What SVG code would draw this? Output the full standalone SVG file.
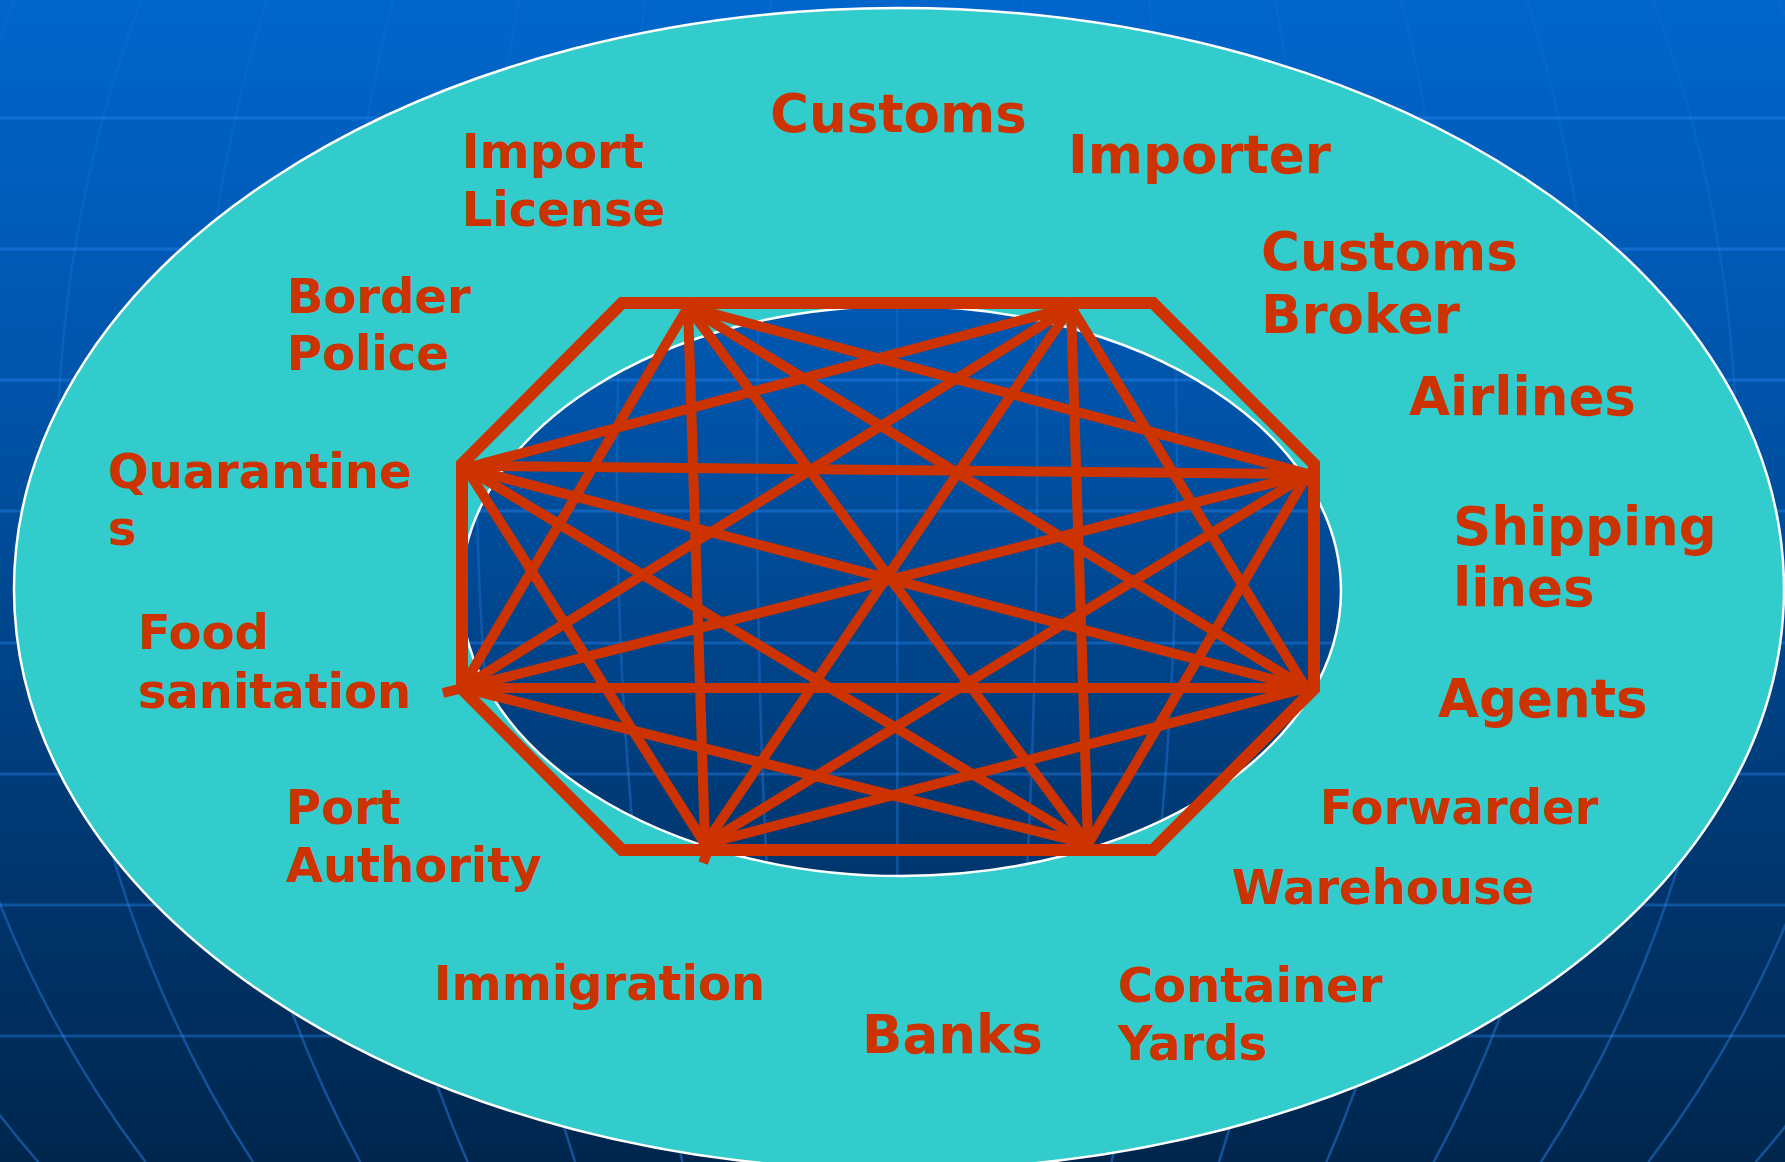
<svg xmlns="http://www.w3.org/2000/svg" xmlns:xlink="http://www.w3.org/1999/xlink" width="1785" height="1162" viewBox="0 0 1785 1162">
  <defs>
    <linearGradient id="bgGrad" x1="0" y1="0" x2="0" y2="1">
      <stop offset="0" stop-color="#0066CC"/>
      <stop offset="0.35" stop-color="#0053A8"/>
      <stop offset="0.75" stop-color="#00366E"/>
      <stop offset="1" stop-color="#00264D"/>
    </linearGradient>
    <linearGradient id="merGrad" gradientUnits="userSpaceOnUse" x1="0" y1="0" x2="0" y2="1162">
      <stop offset="0" stop-color="#2F8FFF" stop-opacity="0.08"/>
      <stop offset="0.45" stop-color="#2F8FFF" stop-opacity="0.25"/>
      <stop offset="1" stop-color="#2F8FFF" stop-opacity="0.42"/>
    </linearGradient>
    <clipPath id="innerClip">
      <ellipse cx="901" cy="591" rx="440" ry="285"/>
    </clipPath>
    <style>
      .grid { fill: none; }
      .hline { stroke: #2F8FFF; stroke-opacity: 0.35; stroke-width: 3; }
      .mer { stroke: url(#merGrad); stroke-width: 2.5; }
      .ring { stroke: #FFFFFF; stroke-width: 2.5; }
      .oct { fill: none; stroke: #CC3300; stroke-width: 12; stroke-linejoin: miter; }
      .edge { stroke: #CC3300; stroke-width: 10; stroke-linecap: butt; }
      .lbl { font-family: "DejaVu Sans", Verdana, sans-serif; font-weight: bold; font-size: 48px; fill: #CC3300; }
      .big { font-size: 53px; }
    </style>
  </defs>

  <g id="bg">
    <rect x="0" y="0" width="1785" height="1162" fill="url(#bgGrad)"/>
    <g class="grid hline">
      <line x1="0" y1="118" x2="1785" y2="118"/>
      <line x1="0" y1="249" x2="1785" y2="249"/>
      <line x1="0" y1="380" x2="1785" y2="380"/>
      <line x1="0" y1="511" x2="1785" y2="511"/>
      <line x1="0" y1="643" x2="1785" y2="643"/>
      <line x1="0" y1="774" x2="1785" y2="774"/>
      <line x1="0" y1="905" x2="1785" y2="905"/>
      <line x1="0" y1="1036" x2="1785" y2="1036"/>
    </g>
    <g class="grid mer">
      <path d="M897,0 L897.5,1162"/>
      <path d="M1023,0 A140,1078 0 0 1 1004.3,1162"/>
      <path d="M1149,0 A280,1078 0 0 1 1111.7,1162"/>
      <path d="M1275,0 A420,1078 0 0 1 1219,1162"/>
      <path d="M1401,0 A560,1078 0 0 1 1326.4,1162"/>
      <path d="M1527,0 A700,1078 0 0 1 1433.7,1162"/>
      <path d="M1653,0 A840,1078 0 0 1 1541,1162"/>
      <path d="M1779,0 A980,1078 0 0 1 1648.4,1162"/>
      <path d="M1905,0 A1120,1078 0 0 1 1755.7,1162"/>
      <path d="M771,0 A140,1078 0 0 0 789.7,1162"/>
      <path d="M645,0 A280,1078 0 0 0 682.3,1162"/>
      <path d="M519,0 A420,1078 0 0 0 575,1162"/>
      <path d="M393,0 A560,1078 0 0 0 467.6,1162"/>
      <path d="M267,0 A700,1078 0 0 0 360.3,1162"/>
      <path d="M141,0 A840,1078 0 0 0 253,1162"/>
      <path d="M15,0 A980,1078 0 0 0 145.6,1162"/>
      <path d="M-111,0 A1120,1078 0 0 0 38.3,1162"/>
    </g>
  </g>

  <g id="outer-ring">
    <ellipse class="ring" cx="899" cy="589" rx="885" ry="581" fill="#33CCCC"/>
  </g>
  <g id="inner-ring">
    <use xlink:href="#bg" href="#bg" clip-path="url(#innerClip)"/>
    <ellipse class="ring" cx="901" cy="591" rx="440" ry="285" fill="none"/>
  </g>

  <g id="connectors">
    <polygon class="oct" points="622,303 1153,303 1314,464 1314,689 1153,850 622,850 462,689 462,464"/>
    <line class="edge" x1="688" y1="307" x2="1308" y2="474"/>
    <line class="edge" x1="688" y1="307" x2="1306" y2="688"/>
    <line class="edge" x1="688" y1="307" x2="1088" y2="844"/>
    <line class="edge" x1="688" y1="307" x2="705" y2="844"/>
    <line class="edge" x1="688" y1="307" x2="462" y2="688"/>
    <line class="edge" x1="1071" y1="307" x2="1306" y2="688"/>
    <line class="edge" x1="1071" y1="307" x2="1088" y2="844"/>
    <line class="edge" x1="1071" y1="307" x2="705" y2="844"/>
    <line class="edge" x1="1071" y1="307" x2="462" y2="688"/>
    <line class="edge" x1="1071" y1="307" x2="466" y2="468"/>
    <line class="edge" x1="1308" y1="474" x2="1088" y2="844"/>
    <line class="edge" x1="1308" y1="474" x2="705" y2="844"/>
    <line class="edge" x1="1308" y1="474" x2="443" y2="693"/>
    <line class="edge" x1="1308" y1="474" x2="480" y2="466"/>
    <line class="edge" x1="1306" y1="688" x2="705" y2="844"/>
    <line class="edge" x1="1306" y1="688" x2="462" y2="688"/>
    <line class="edge" x1="1306" y1="688" x2="466" y2="468"/>
    <line class="edge" x1="1088" y1="844" x2="462" y2="688"/>
    <line class="edge" x1="1088" y1="844" x2="466" y2="468"/>
    <line class="edge" x1="705" y1="844" x2="466" y2="468"/>
    <line class="edge" x1="713" y1="838" x2="703" y2="863"/>
  </g>

  <g id="customs"><text class="lbl big" x="770" y="132">Customs</text></g>
  <g id="import-license"><text class="lbl" x="462" y="168">Import<tspan x="462" dy="58">License</tspan></text></g>
  <g id="importer"><text class="lbl big" x="1068" y="173">Importer</text></g>
  <g id="customs-broker"><text class="lbl big" x="1261" y="270">Customs<tspan x="1261" dy="63">Broker</tspan></text></g>
  <g id="border-police"><text class="lbl" x="287" y="313">Border<tspan x="287" dy="57">Police</tspan></text></g>
  <g id="airlines"><text class="lbl big" x="1409" y="415">Airlines</text></g>
  <g id="quarantines"><text class="lbl" x="108" y="488">Quarantine<tspan x="108" dy="57">s</tspan></text></g>
  <g id="shipping-lines"><text class="lbl big" x="1453" y="545">Shipping<tspan x="1453" dy="61">lines</tspan></text></g>
  <g id="food-sanitation"><text class="lbl" x="138" y="649">Food<tspan x="138" dy="59">sanitation</tspan></text></g>
  <g id="agents"><text class="lbl big" x="1438" y="717">Agents</text></g>
  <g id="forwarder"><text class="lbl" x="1320" y="824">Forwarder</text></g>
  <g id="port-authority"><text class="lbl" x="286" y="824">Port<tspan x="286" dy="58">Authority</tspan></text></g>
  <g id="warehouse"><text class="lbl" x="1232" y="904">Warehouse</text></g>
  <g id="immigration"><text class="lbl" x="434" y="1000">Immigration</text></g>
  <g id="container-yards"><text class="lbl" x="1118" y="1002">Container<tspan x="1118" dy="58">Yards</tspan></text></g>
  <g id="banks"><text class="lbl big" x="862" y="1053">Banks</text></g>
</svg>
